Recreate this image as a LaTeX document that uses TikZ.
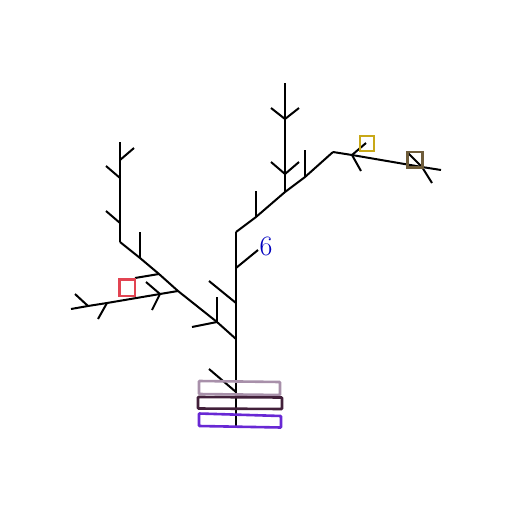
\documentclass[tikz,border=0pt]{standalone}
\begin{document}
\begin{tikzpicture}[x=1pt,y=-1pt,
  br/.style={line width=2pt,black},
  sq/.style={line width=2.8pt},
  bar/.style={line width=2.6pt,rounded corners=0.8pt}]
\useasboundingbox (0,0) rectangle (512,512);
% trunk
\coordinate (tb) at (236,428);
\coordinate (t1) at (236,392);
\coordinate (t2) at (236,339);
\coordinate (t3) at (236,303);
\coordinate (t4) at (236,268);
\coordinate (t5) at (236,232);
\draw[br] (tb) -- (t5);
\coordinate (b1) at (209,369);
\draw[br] (t1) -- (b1);
\coordinate (b3) at (209,281);
\draw[br] (t3) -- (b3);
\coordinate (b4) at (258,250);
\draw[br] (t4) -- (b4);
% left big branch
\coordinate (l1) at (217,322);
\coordinate (l2) at (178,291);
\coordinate (l3) at (159,274);
\coordinate (l4) at (140,258);
\coordinate (l5) at (120,242);
\draw[br] (t2) -- (l1) -- (l2) -- (l3) -- (l4) -- (l5);
\coordinate (l1a) at (217,297);
\coordinate (l1b) at (192,327);
\draw[br] (l1) -- (l1a); \draw[br] (l1) -- (l1b);
\coordinate (l4a) at (140,232);
\draw[br] (l4) -- (l4a);
\coordinate (l3a) at (135,278);
\draw[br] (l3) -- (l3a);
% left sub-branch from l2
\coordinate (m1) at (160,294);
\coordinate (m2) at (107,303);
\coordinate (m3) at (88,306);
\coordinate (m4) at (71,309);
\draw[br] (l2) -- (m1) -- (m2) -- (m3) -- (m4);
\coordinate (m1a) at (146,282);
\coordinate (m1b) at (152,310);
\draw[br] (m1a) -- (m1) -- (m1b);
\coordinate (m2a) at (98,319);
\draw[br] (m2) -- (m2a);
\coordinate (m3a) at (75,294);
\draw[br] (m3) -- (m3a);
% left vertical
\coordinate (v1) at (120,223);
\coordinate (v2) at (120,178);
\coordinate (v3) at (120,160);
\coordinate (v4) at (120,142);
\draw[br] (l5) -- (v4);
\coordinate (v1a) at (106,211);
\draw[br] (v1) -- (v1a);
\coordinate (v2a) at (106,166);
\draw[br] (v2) -- (v2a);
\coordinate (v3a) at (134,148);
\draw[br] (v3) -- (v3a);
% right big branch
\coordinate (r1) at (256,217);
\coordinate (r2) at (285,192);
\coordinate (r3) at (305,177);
\coordinate (r4) at (333,152);
\draw[br] (t5) -- (r1) -- (r2) -- (r3) -- (r4);
\coordinate (r1a) at (256,191);
\draw[br] (r1) -- (r1a);
\coordinate (r3a) at (305,150);
\draw[br] (r3) -- (r3a);
\coordinate (u1) at (285,174);
\coordinate (u2) at (285,119);
\coordinate (u3) at (285,83);
\draw[br] (r2) -- (u3);
\coordinate (u1a) at (271,162);
\coordinate (u1b) at (299,162);
\draw[br] (u1a) -- (u1) -- (u1b);
\coordinate (u2a) at (271,108);
\coordinate (u2b) at (299,108);
\draw[br] (u2a) -- (u2) -- (u2b);
% far right branch
\coordinate (s1) at (352,155);
\coordinate (s2) at (422,167);
\coordinate (s3) at (441,170);
\draw[br] (r4) -- (s1) -- (s2) -- (s3);
\coordinate (s1a) at (366,143);
\coordinate (s1b) at (361,171);
\draw[br] (s1) -- (s1a); \draw[br] (s1) -- (s1b);
\coordinate (s2a) at (408,153);
\coordinate (s2b) at (432,183);
\draw[br] (s2) -- (s2a); \draw[br] (s2) -- (s2b);
% label
\node[text=blue!75!black,font=\fontsize{28}{30}\selectfont,inner sep=0pt] (six) at (266,246) {6};
% squares
\draw[sq,draw={rgb,255:red,226;green,68;blue,82}] (119.5,279.5) rectangle (135,296);
\draw[sq,draw={rgb,255:red,200;green,168;blue,24}] (360,136) rectangle (374,151);
\draw[sq,draw={rgb,255:red,110;green,92;blue,58}] (407.5,152) rectangle (422.5,167.5);
% bars
\draw[bar,draw={rgb,255:red,168;green,144;blue,170}] (199,381) -- (280,382) -- (280,395) -- (199,394) -- cycle;
\draw[bar,draw={rgb,255:red,66;green,32;blue,58}] (198,397) -- (282,397.5) -- (282,409) -- (198,408.5) -- cycle;
\draw[bar,draw={rgb,255:red,104;green,40;blue,212}] (199,413.5) -- (281,416) -- (281,427.5) -- (199,426) -- cycle;
\end{tikzpicture}
\end{document}
